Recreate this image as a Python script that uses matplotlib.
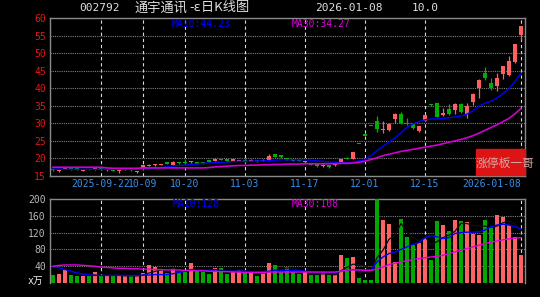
import numpy as np
import pandas as pd
from matplotlib import pyplot as plt
from matplotlib.patches import Rectangle

plt.rcParams['font.family'] = ['Noto Sans CJK SC', 'DejaVu Sans']

# 日K 数据 (2025-09-10 .. 2026-01-08)
opens = [17.0, 16.3, 17.0, 17.3, 17.1, 16.5, 16.9, 16.8, 17.0, 16.6,
         16.7, 16.4, 16.8, 16.8, 16.0, 17.3, 17.9, 18.0, 18.2, 18.8,
         18.2, 18.9, 18.8, 18.9, 19.0, 18.8, 19.5, 19.4, 19.8, 19.7,
         19.4, 19.3, 19.6, 19.3, 19.5, 19.3, 19.4, 21.2, 21.0, 20.0,
         19.7, 19.6, 18.9, 18.7, 18.4, 17.8, 18.0, 18.0, 18.8, 20.2,
         19.9, 24.1, 26.5, 29.2, 30.8, 28.0, 28.1, 31.1, 32.8, 30.0,
         30.0, 27.9, 30.8, 35.5, 35.7, 32.5, 34.0, 33.9, 35.6, 32.6,
         36.0, 40.0, 44.3, 41.5, 40.5, 44.0, 43.8, 47.6, 55.3]
highs = [17.2, 16.9, 17.6, 17.4, 17.2, 16.9, 17.0, 17.2, 17.1, 17.0,
         16.8, 16.7, 17.2, 16.9, 16.3, 18.2, 18.3, 18.5, 18.5, 18.9,
         19.2, 19.0, 19.9, 19.2, 19.1, 18.9, 19.6, 20.0, 19.9, 19.8,
         19.7, 19.6, 20.0, 19.7, 19.6, 19.7, 21.2, 21.4, 21.1, 20.1,
         19.8, 19.7, 19.4, 18.8, 18.5, 18.3, 18.1, 18.5, 19.9, 20.4,
         21.9, 24.1, 26.5, 29.2, 32.1, 30.6, 30.2, 33.0, 33.3, 31.4,
         30.2, 29.3, 32.6, 35.6, 35.8, 34.3, 35.5, 35.8, 35.9, 35.8,
         38.6, 42.5, 46.1, 43.0, 44.2, 46.4, 49.3, 52.6, 57.75]
lows = [16.4, 16.2, 16.9, 16.8, 16.7, 16.3, 16.6, 16.7, 16.8, 16.5,
        16.4, 15.9, 16.7, 16.5, 15.9, 17.2, 17.8, 17.9, 18.1, 18.4,
        18.1, 18.5, 18.3, 18.8, 18.4, 18.3, 18.9, 19.3, 19.5, 19.3,
        19.3, 19.2, 18.6, 19.2, 19.1, 19.2, 19.3, 20.4, 20.2, 19.5,
        19.2, 19.2, 18.8, 18.0, 17.6, 17.5, 17.4, 17.8, 18.7, 19.7,
        19.8, 24.1, 26.5, 29.2, 27.5, 27.2, 27.8, 30.2, 29.8, 29.5,
        28.5, 27.6, 30.6, 34.8, 31.8, 32.0, 32.4, 32.6, 33.0, 31.4,
        35.3, 37.3, 42.2, 39.6, 39.3, 42.6, 43.5, 47.2, 53.7]
closes = [16.6, 16.8, 17.5, 16.9, 16.8, 16.7, 16.7, 17.1, 16.9, 16.9,
          16.5, 16.6, 17.1, 16.6, 16.2, 18.0, 18.2, 18.4, 18.4, 18.5,
          19.0, 18.6, 18.6, 19.1, 18.5, 18.6, 19.1, 19.8, 19.6, 19.4,
          19.6, 19.5, 19.3, 19.6, 19.2, 19.6, 20.7, 20.5, 20.3, 19.6,
          19.3, 19.3, 19.2, 18.1, 17.8, 18.2, 17.6, 18.4, 19.7, 19.9,
          21.9, 24.1, 26.5, 29.2, 28.5, 28.4, 29.9, 32.8, 30.0, 29.7,
          28.6, 29.1, 32.4, 35.2, 31.9, 32.8, 32.6, 35.6, 33.3, 35.0,
          38.4, 42.3, 42.9, 40.1, 43.0, 46.2, 47.8, 52.5, 57.75]
ma10 = [17.0, 17.0, 16.9, 16.9, 16.9, 16.9, 16.9, 16.9, 16.9, 16.9,
        16.9, 16.9, 16.9, 16.9, 16.9, 17.0, 17.1, 17.3, 17.4, 17.6,
        17.8, 18.0, 18.1, 18.3, 18.4, 18.6, 18.7, 18.8, 18.9, 19.0,
        19.1, 19.2, 19.2, 19.2, 19.3, 19.3, 19.4, 19.5, 19.6, 19.6,
        19.6, 19.6, 19.6, 19.5, 19.3, 19.2, 19.0, 18.9, 18.8, 18.8,
        18.9, 19.3, 19.6, 20.8, 22.2, 23.5, 24.7, 25.8, 27.3, 28.9,
        29.8, 30.5, 31.0, 31.2, 31.3, 31.4, 31.6, 31.8, 32.1, 32.6,
        33.6, 34.9, 35.7, 36.3, 37.2, 38.5, 39.8, 41.9, 44.23]
ma30 = [17.5, 17.5, 17.5, 17.5, 17.5, 17.5, 17.5, 17.5, 17.5, 17.3,
        17.2, 17.2, 17.2, 17.2, 17.2, 17.3, 17.3, 17.3, 17.3, 17.3,
        17.3, 17.3, 17.3, 17.3, 17.3, 17.3, 17.4, 17.6, 17.7, 17.8,
        17.9, 18.0, 18.0, 18.1, 18.1, 18.2, 18.2, 18.3, 18.3, 18.4,
        18.4, 18.4, 18.5, 18.5, 18.5, 18.5, 18.5, 18.5, 18.6, 18.6,
        18.7, 18.9, 19.2, 19.7, 20.2, 20.8, 21.2, 21.6, 22.0, 22.3,
        22.6, 22.9, 23.2, 23.5, 23.8, 24.2, 24.6, 25.0, 25.4, 25.9,
        26.5, 27.2, 28.0, 28.8, 29.6, 30.5, 31.4, 32.7, 34.27]

# 成交量 (万)
volume = [20, 22, 32, 20, 16, 16, 16, 27, 16, 16,
          16, 18, 19, 16, 16, 24, 44, 38, 32, 24,
          35, 26, 26, 48, 30, 27, 21, 36, 36, 22,
          32, 30, 24, 24, 16, 24, 48, 42, 26, 38,
          27, 22, 26, 18, 18, 24, 18, 19, 67, 59,
          61, 11, 6, 8, 215, 150, 141, 51, 152, 110,
          90, 96, 104, 54, 148, 139, 125, 150, 148, 146,
          117, 115, 150, 133, 162, 157, 139, 110, 67]
vol_ma10 = [40, 36, 32, 28, 24, 21, 19, 18, 18, 18,
            18, 18, 18, 18, 18, 19, 19, 20, 20, 20,
            22, 25, 28, 30, 30, 30, 30, 29, 28, 28,
            28, 28, 28, 27, 27, 27, 28, 29, 29, 30,
            30, 29, 28, 27, 26, 26, 25, 25, 28, 31,
            32, 32, 31, 31, 50, 62, 70, 74, 80, 86,
            92, 96, 108, 113, 110, 106, 108, 118, 120, 121,
            121, 122, 126, 134, 138, 140, 138, 134, 128]
vol_ma30 = [40, 42, 43, 43, 43, 42, 41, 40, 38, 37,
            36, 35, 35, 34, 34, 33, 33, 32, 32, 31,
            31, 31, 30, 30, 29, 29, 28, 28, 27, 27,
            26, 26, 25, 25, 25, 25, 26, 26, 26, 26,
            26, 26, 26, 26, 26, 26, 26, 26, 28, 31,
            31, 31, 30, 30, 33, 38, 44, 47, 50, 53,
            56, 58, 60, 62, 63, 66, 70, 74, 78, 82,
            86, 90, 94, 97, 100, 103, 105, 107, 108]

date_idx = [8, 15, 22, 32, 42, 52, 62, 78]
date_lbls = ['2025-09-22', '10-09', '10-20', '11-03', '11-17', '12-01', '12-15', '2026-01-08']

RED = '#ff5f5f'
GREEN = '#00b000'
MONO = 'DejaVu Sans Mono'

o = np.array(opens); h = np.array(highs); l = np.array(lows); c = np.array(closes)
x = np.arange(len(c))
up = c > o
cols = np.where(up, RED, GREEN)

fig = plt.figure(figsize=(5.4, 2.97), dpi=100, facecolor='black')
ax1 = fig.add_axes([50/540, 1-176/297, 475/540, 158/297])
ax2 = fig.add_axes([50/540, 1-283/297, 475/540, 84/297])

for ax in (ax1, ax2):
    ax.set_facecolor('black')
    ax.set_xlim(-0.5, 78.67)
    for s in ax.spines.values():
        s.set_color('#8a8a8a')
        s.set_linewidth(1)
    ax.tick_params(length=0)
    for xi in date_idx:
        ax.axvline(xi, color='#d8d8d8', lw=0.8, ls=(0, (3, 2.5)), zorder=1)
ax2.spines['bottom'].set_visible(False)

# 价格
ax1.set_ylim(15, 60)
for v in range(20, 60, 5):
    ax1.axhline(v, color='#808080', lw=0.8, ls=(0, (1, 1)), zorder=1)
ax1.vlines(x, l, h, colors=cols, lw=0.9, zorder=3)
body = np.maximum(np.abs(c - o), 0.35)
ax1.bar(x, body, bottom=np.minimum(o, c), width=0.72, color=cols, zorder=4)
ax1.plot(x, ma10, color='#0000ff', lw=1.0, zorder=5)
ax1.plot(x, ma30, color='#d000d0', lw=1.2, zorder=5)
ax1.set_yticks(range(15, 61, 5))
ax1.set_yticklabels([str(v) for v in range(15, 61, 5)], color='#e01818',
                    family=MONO, fontsize=7)
ax1.tick_params(axis='y', pad=3)
ax1.set_xticks(date_idx)
ax1.set_xticklabels(date_lbls, color='#3a8ee8', family=MONO, fontsize=7)
ax1.get_xticklabels()[-1].set_ha('right')
ax1.tick_params(axis='x', pad=2)

# 成交量
ax2.set_ylim(0, 200)
for v in (40, 80, 120, 160):
    ax2.axhline(v, color='#808080', lw=0.8, ls=(0, (1, 1)), zorder=1)
ax2.bar(x, volume, width=0.8, color=np.where(up, '#ff6262', '#00a800'), zorder=3)
ax2.plot(x, pd.Series(volume).rolling(5).mean(), color='#101010', lw=0.9, zorder=4)
ax2.plot(x, vol_ma10, color='#0000ff', lw=1.0, zorder=5)
ax2.plot(x, vol_ma30, color='#e000e0', lw=1.0, zorder=5)
ax2.set_yticks([40, 80, 120, 160, 200])
ax2.set_yticklabels(['40', '80', '120', '160', '200'], color='#b8b8b8',
                    family=MONO, fontsize=7)
ax2.tick_params(axis='y', pad=3)
ax2.set_xticks([])

# 文字
def ftext(px, py, s, **kw):
    fig.text(px/540, 1-py/297, s, va='center', **kw)

ftext(79, 8, '002792', color='#e0e0e0', family=MONO, fontsize=8)
ftext(134, 8, '通宇通讯', color='#e0e0e0', fontsize=9.5)
ftext(189, 8, '-ɛ日K线图', color='#e0e0e0', fontsize=9.5)
ftext(315, 8, '2026-01-08', color='#e0e0e0', family=MONO, fontsize=8)
ftext(412, 8, '10.0', color='#e0e0e0', family=MONO, fontsize=8)
ftext(172, 24, 'MA10:44.23', color='#0000ff', family=MONO, fontsize=7)
ftext(292, 24, 'MA30:34.27', color='#e000e0', family=MONO, fontsize=7)
ftext(173, 204, 'MA10:128', color='#0000ff', family=MONO, fontsize=7)
ftext(292, 204, 'MA30:108', color='#e000e0', family=MONO, fontsize=7)
ftext(28, 281, 'x万', color='#f0f0f0', family=[MONO, 'Noto Sans CJK SC'], fontsize=7)

fig.patches.append(Rectangle((475.7/540, 1-175/297), 49.3/540, 25.7/297,
                             transform=fig.transFigure, color='#dd1414', zorder=6))
ftext(476, 163, '涨停板一哥', color='#d9a6a6', fontsize=8.5, zorder=7)

fig.savefig('out.png', dpi=100, facecolor='black')
